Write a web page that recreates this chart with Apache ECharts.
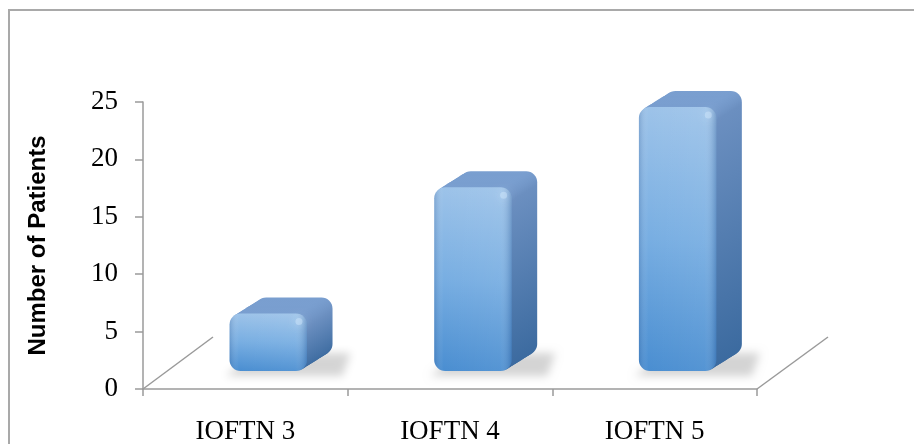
<!DOCTYPE html>
<html>
<head>
<meta charset="utf-8">
<script src="https://cdn.jsdelivr.net/npm/echarts@6/dist/echarts.min.js"></script>
<style>
  html, body { margin: 0; padding: 0; background: #ffffff; }
  #chart { width: 914px; height: 444px; }
</style>
</head>
<body>
<div id="chart"></div>
<script>
// ---- data ----
const categories = ['IOFTN 3', 'IOFTN 4', 'IOFTN 5'];
const patients = [5, 16, 23];
const yTicks = { min: 0, max: 25, interval: 5 };
const yAxisTitle = 'Number of Patients';

const chart = echarts.init(document.getElementById('chart'), null, { renderer: 'canvas' });

const FLOOR_DX = 70, FLOOR_DY = -52;

function renderFloor(params, api) {
  const cs = params.coordSys;
  const x0 = cs.x, x1 = cs.x + cs.width, yb = cs.y + cs.height;
  const lineStyle = { stroke: '#9a9a9a', lineWidth: 1.5, fill: null };
  return {
    type: 'group',
    children: [
      { type: 'line', shape: { x1: x0, y1: yb, x2: x0 + FLOOR_DX, y2: yb + FLOOR_DY }, style: lineStyle },
      { type: 'line', shape: { x1: x1, y1: yb, x2: x1 + FLOOR_DX + 1, y2: yb + FLOOR_DY }, style: lineStyle }
    ]
  };
}

function renderBar(params, api) {
  const cat = api.value(0);
  const val = api.value(1);
  const base = api.coord([cat, 0]);
  const top = api.coord([cat, val]);
  const band = api.size([1, 0])[0];
  const w = band * 0.378;
  const ox = band * 0.112;
  const oy = -18;
  const dx = band * 0.125, dy = -16;
  const x0 = base[0] + ox - w / 2;
  const yb = base[1] + oy;
  const yt = top[1] + oy;
  const h = yb - yt;
  const r = 11;
  const children = [];

  // soft floor shadow (only the blurred shadow is visible)
  const OFF = 2000;
  children.push({
    type: 'polygon',
    shape: { points: [
      [x0 - 4, yb + 5 - OFF], [x0 + w + dx + 10, yb + 5 - OFF],
      [x0 + w + dx + 18, yb + dy - 2 - OFF], [x0 + dx, yb + dy - 2 - OFF]
    ] },
    style: {
      fill: '#000000',
      shadowBlur: 9, shadowColor: 'rgba(0,0,0,0.17)',
      shadowOffsetX: 0, shadowOffsetY: OFF
    }
  });

  // extruded body (back to front)
  const steps = 14;
  for (let i = steps; i >= 1; i--) {
    const t = i / steps;
    children.push({
      type: 'rect',
      shape: { x: x0 + dx * t, y: yt + dy * t, width: w, height: h, r: r },
      style: {
        fill: new echarts.graphic.LinearGradient(0, 0, 0, 1, [
          { offset: 0, color: '#7a9fd0' },
          { offset: Math.min(0.99, 14 / (h + 1)), color: '#6b8fc0' },
          { offset: 1, color: '#3b6a9f' }
        ])
      }
    });
  }

  // front face
  children.push({
    type: 'rect',
    shape: { x: x0, y: yt, width: w, height: h, r: r },
    style: {
      fill: new echarts.graphic.LinearGradient(0, 0, 0, 1, [
        { offset: 0, color: '#9dc3e9' },
        { offset: 0.5, color: '#78aee2' },
        { offset: 1, color: '#4a8ed1' }
      ])
    }
  });
  // horizontal shading overlay
  children.push({
    type: 'rect',
    shape: { x: x0, y: yt, width: w, height: h, r: r },
    style: {
      fill: new echarts.graphic.LinearGradient(0, 0, 1, 0, [
        { offset: 0, color: 'rgba(30,70,130,0.22)' },
        { offset: 0.12, color: 'rgba(255,255,255,0.0)' },
        { offset: 0.85, color: 'rgba(255,255,255,0.06)' },
        { offset: 1, color: 'rgba(30,70,130,0.30)' }
      ])
    }
  });
  // corner highlight
  children.push({
    type: 'circle',
    shape: { cx: x0 + w - 8, cy: yt + 8, r: 3.5 },
    style: { fill: 'rgba(210,232,252,0.45)', shadowBlur: 8, shadowColor: 'rgba(220,238,255,0.9)' }
  });

  return { type: 'group', children: children };
}

const option = {
  animation: false,
  backgroundColor: '#ffffff',
  grid: {
    left: 143, right: 157, top: 102, bottom: 55,
    containLabel: false,
    outerBoundsMode: 'none'
  },
  graphic: [
    {
      type: 'rect',
      shape: { x: 9, y: 10, width: 1000, height: 1000 },
      style: { fill: null, stroke: '#a9a9a9', lineWidth: 2 },
      z: 100
    }
  ],
  xAxis: {
    type: 'category',
    data: categories,
    boundaryGap: true,
    axisLine: { show: true, lineStyle: { color: '#9a9a9a', width: 1.5 } },
    axisTick: { show: true, length: 7, alignWithLabel: false, lineStyle: { color: '#9a9a9a', width: 1.5 } },
    axisLabel: {
      color: '#000000', fontFamily: 'Liberation Serif', fontSize: 27, margin: 29
    },
    splitLine: { show: false }
  },
  yAxis: {
    type: 'value',
    min: yTicks.min, max: yTicks.max, interval: yTicks.interval,
    name: yAxisTitle,
    nameLocation: 'middle',
    nameGap: 93,
    nameTextStyle: { color: '#000000', fontFamily: 'Liberation Sans', fontWeight: 'bold', fontSize: 24 },
    axisLine: { show: true, lineStyle: { color: '#9a9a9a', width: 1.5 } },
    axisTick: { show: true, length: 8, lineStyle: { color: '#9a9a9a', width: 1.5 } },
    axisLabel: { color: '#000000', fontFamily: 'Liberation Serif', fontSize: 27, margin: 25 },
    splitLine: { show: false }
  },
  series: [
    {
      type: 'custom',
      name: 'floor',
      renderItem: renderFloor,
      data: [[0, 0]],
      z: 1,
      silent: true
    },
    {
      type: 'custom',
      name: 'Patients',
      renderItem: renderBar,
      data: categories.map((c, i) => [i, patients[i]]),
      encode: { x: 0, y: 1 },
      z: 2
    }
  ]
};

chart.setOption(option);
</script>
</body>
</html>
